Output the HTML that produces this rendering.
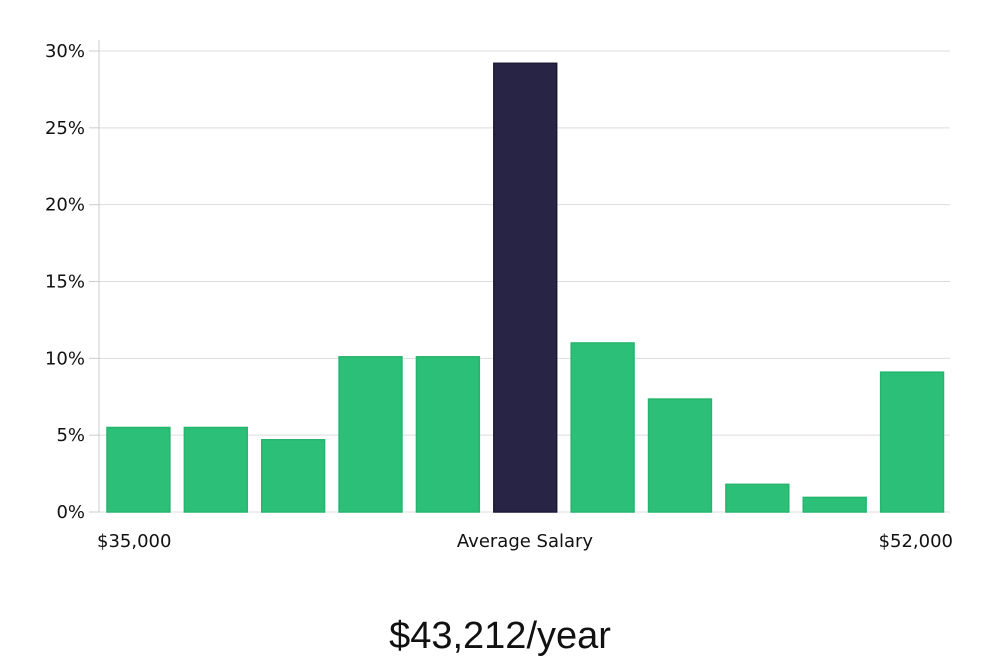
<!DOCTYPE html>
<html><head><meta charset="utf-8"><style>
body{margin:0;background:#fff;width:1000px;height:660px;overflow:hidden}
svg text{font-family:"DejaVu Sans","Liberation Sans",sans-serif}
</style></head><body>
<svg id="chart" width="1000" height="660" xmlns="http://www.w3.org/2000/svg">
<g id="grid"></g>
<g id="yaxis"></g>
<g id="bars"></g>
<text x="97" y="547" font-size="18" fill="#111">$35,000</text>
<text x="525" y="547" font-size="18" fill="#111" text-anchor="middle">Average Salary</text>
<text x="953" y="547" font-size="18" fill="#111" text-anchor="end">$52,000</text>
<text x="500" y="648" font-size="38" fill="#111" text-anchor="middle" style="font-family:'Liberation Sans',sans-serif;font-weight:300">$43,212/year</text>
</svg>
<script>
const values=[5.5,5.5,4.7,10.1,10.1,29.2,11.0,7.35,1.8,0.95,9.1];
const highlight=[false,false,false,false,false,true,false,false,false,false,false];
const ticks=[0,5,10,15,20,25,30];
const tickLabels=["0%","5%","10%","15%","20%","25%","30%"];
const NS="http://www.w3.org/2000/svg";
const x0=99,x1=950,y0=512,y30=51;
const y=v=>y0-(v/30)*(y0-y30);
const band=(x1-x0)/values.length;
const bx=i=>x0+i*band+8;
const bw=band-14.5;
function mk(t,a,p){const e=document.createElementNS(NS,t);for(const k in a)e.setAttribute(k,a[k]);p.appendChild(e);return e;}
const grid=document.getElementById('grid'),ya=document.getElementById('yaxis'),bars=document.getElementById('bars');
const ax=mk('line',{x1:x0,x2:x0,y1:40,y2:y0,stroke:'#ccc','stroke-width':1},ya);


ticks.forEach((t,i)=>{
 const g=mk('line',{x1:x0,x2:x1,y1:y(t),y2:y(t),stroke:'#ddd','stroke-width':1},grid);
 
 
 const tk=mk('line',{x1:89,x2:x0,y1:y(t),y2:y(t),stroke:'#ccc','stroke-width':1},ya);
 
 
 const l=mk('text',{x:85,y:y(t)+6,'font-size':18,fill:'#111','text-anchor':'end'},ya);
 l.textContent=tickLabels[i];
 
 
});
values.forEach((v,i)=>{
 const r=mk('rect',{x:bx(i),y:y(v),width:bw,height:y0-y(v),fill:highlight[i]?'#282445':'#2bbf77',stroke:highlight[i]?'#1c1838':'#25b56e','stroke-width':1.5},bars);
 
 
});
</script>
</body></html>
